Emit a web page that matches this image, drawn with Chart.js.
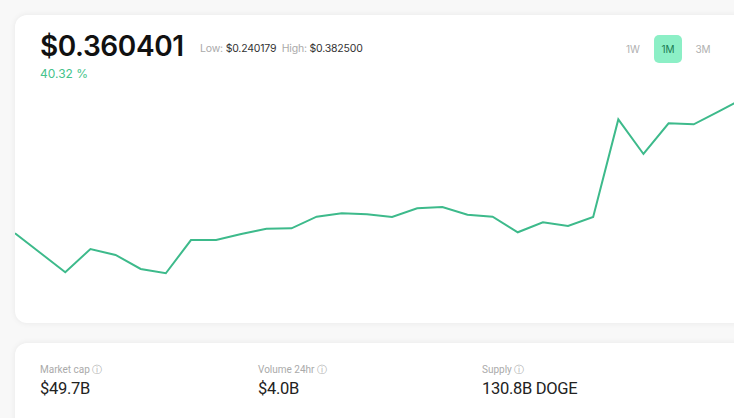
<!DOCTYPE html>
<html>
<head>
<meta charset="utf-8">
<script src="https://cdn.jsdelivr.net/npm/chart.js@4"></script>
<style>
  html, body { margin: 0; padding: 0; }
  body { width: 734px; height: 418px; overflow: hidden; background: #f8f8f8; position: relative; font-family: "Inter", "Open Sans", sans-serif; }
  .card { position: absolute; background: #fff; border-radius: 12px; box-shadow: 0 0 6px rgba(0,0,0,0.07); }
  #top { left: 15px; top: 15px; width: 740px; height: 308px; }
  #bottom { left: 15px; top: 343px; width: 740px; height: 100px; }
  .price { position: absolute; left: 25px; top: 14px; font-size: 28px; font-weight: 600; color: #111; letter-spacing: -0.4px; }
  .range { position: absolute; left: 185px; top: 27px; font-size: 10.5px; color: #333; letter-spacing: -0.2px; }
  .range span { color: #aaa; }
  .change { position: absolute; left: 25px; top: 51px; font-size: 12px; color: #45c38c; }
  .btn { position: absolute; top: 20px; font-size: 10px; color: #b0b0b0; width: 28px; height: 28px; line-height: 28px; text-align: center; border-radius: 5px; }
  .btn.on { background: #8cefc6; color: #1a7a52; }
  #wrap { position: absolute; left: 15px; top: 88px; width: 729px; height: 210px; }
  .stat { position: absolute; top: 20px; font-family: "Roboto", sans-serif; }
  .stat .lbl { font-size: 10px; color: #aaa; }
  .stat .val { font-size: 16.5px; color: #222; margin-top: 2px; letter-spacing: -0.3px; }
</style>
</head>
<body>
<div class="card" id="top">
  <div class="price">$0.360401</div>
  <div class="range"><span>Low:</span> $0.240179 &nbsp;<span>High:</span> $0.382500</div>
  <div class="change">40.32 %</div>
  <div class="btn" style="left:604px">1W</div>
  <div class="btn on" style="left:639px">1M</div>
  <div class="btn" style="left:674px">3M</div>
</div>
<div class="card" id="bottom">
  <div class="stat" style="left:25px"><div class="lbl">Market cap &#9432;</div><div class="val">$49.7B</div></div>
  <div class="stat" style="left:243px"><div class="lbl">Volume 24hr &#9432;</div><div class="val">$4.0B</div></div>
  <div class="stat" style="left:467px"><div class="lbl">Supply &#9432;</div><div class="val">130.8B DOGE</div></div>
</div>
<div id="wrap"><canvas id="chart"></canvas></div>
<script>
var days = ["D1","D2","D3","D4","D5","D6","D7","D8","D9","D10","D11","D12","D13","D14","D15",
            "D16","D17","D18","D19","D20","D21","D22","D23","D24","D25","D26","D27","D28","D29","D30"];
var prices = [0.2727, 0.2568, 0.2410, 0.2599, 0.2551, 0.2437, 0.2402, 0.2672, 0.2672, 0.2721,
              0.2764, 0.2767, 0.2862, 0.2889, 0.2881, 0.2859, 0.2930, 0.2940, 0.2878, 0.2862,
              0.2735, 0.2816, 0.2786, 0.2859, 0.3652, 0.3371, 0.3620, 0.3612, 0.3717, 0.3825];
var yMin = 0.2201, yMax = 0.3907;

new Chart(document.getElementById("chart"), {
  type: "line",
  data: {
    labels: days,
    datasets: [{
      data: prices,
      borderColor: "#3dba8b",
      borderWidth: 2,
      pointRadius: 0,
      tension: 0,
      fill: false
    }]
  },
  options: {
    responsive: true,
    maintainAspectRatio: false,
    animation: false,
    layout: { padding: 0 },
    plugins: { legend: { display: false }, tooltip: { enabled: false } },
    scales: {
      x: { display: false, offset: false },
      y: { display: false, min: yMin, max: yMax }
    }
  }
});
</script>
</body>
</html>
